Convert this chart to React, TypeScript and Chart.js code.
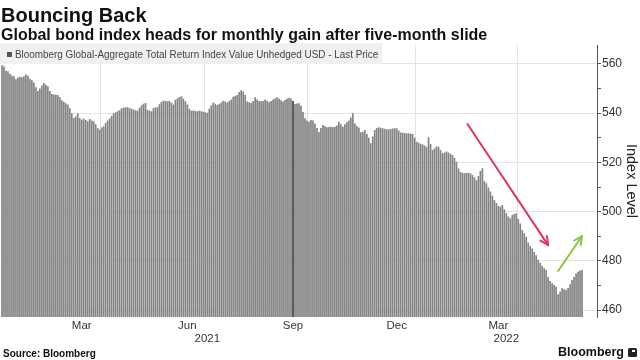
import React, { useEffect, useRef } from "react";
import { Chart, registerables } from "chart.js";

Chart.register(...registerables);

const chartTitle = "Bouncing Back";
const chartSubtitle = "Global bond index heads for monthly gain after five-month slide";
const seriesName = "Bloomberg Global-Aggregate Total Return Index Value Unhedged USD - Last Price";
const sourceNote = "Source: Bloomberg";
const brandName = "Bloomberg";
const axisTitle = "Index Level";

// Index level, roughly every other trading day, Jan 2021 – late May 2022
const indexValues: number[] = [
  559.5, 559, 557.2, 557, 556, 555.2, 555, 553.8, 554.5, 554.8,
  554.6, 555, 555.7, 555.2, 554, 553.4, 552.5, 550.5, 549, 550,
  551.2, 552.3, 551.6, 550.9, 549, 547.8, 547.6, 547.5, 547.4, 546.5,
  545.3, 544.6, 544, 543.5, 542, 540, 538, 538.7, 540, 538,
  537.3, 537.8, 537.2, 536.7, 537.6, 537, 536.7, 535.5, 534, 533.3,
  534.2, 534.7, 536, 537, 537.8, 538.9, 540, 540.4, 540.8, 541.2,
  542, 542.2, 542.4, 542.4, 542.1, 541.8, 541.5, 541.2, 541, 542.2,
  543.2, 543.8, 544.1, 541.4, 541, 540.8, 542.1, 542.3, 542.4, 543.6,
  544.5, 545.1, 544.9, 544.8, 545, 544.2, 543.5, 545.5, 546, 546.6,
  546.9, 545.9, 544.8, 543.5, 541.8, 541, 541.1, 540.9, 540.8, 541,
  540.8, 540.6, 540.4, 540.2, 541.8, 543.2, 544.3, 543.8, 543.3, 543.7,
  544.3, 545.1, 544.7, 544.3, 545, 545.6, 546.7, 547, 547.4, 548.6,
  549.3, 548.8, 547.4, 544.7, 544.4, 544.1, 545, 546.5, 545.6, 545,
  544.8, 545, 545.6, 545, 544.4, 545, 545.6, 546, 546.5, 545.9,
  545.3, 544.7, 545.4, 546, 546.3, 546, 545, 543.7, 543.9, 544,
  543, 540.5, 537.9, 537, 536.5, 537.2, 537, 535.8, 534, 532.4,
  534, 535.2, 534.7, 534.3, 534.4, 534.5, 534.3, 534.5, 535, 536.5,
  535.5, 534.5, 535.5, 536.3, 537, 538.2, 540, 535.8, 534.8, 534.2,
  532.3, 532.5, 533.2, 531.6, 530, 527.8, 530.5, 533.2, 534, 534.3,
  534.1, 533.9, 533.7, 533.5, 533.4, 533.6, 533.8, 533.9, 533.9, 533,
  532.2, 532.1, 532, 531.8, 531.8, 531.6, 531.5, 530, 528.4, 528,
  527.6, 527.3, 526.9, 526.4, 530.2, 527.5, 525, 525.8, 526.5, 526.4,
  525, 523.7, 524, 524.4, 524, 523.5, 523, 521.8, 520.3, 517.5,
  516.1, 515.8, 515.6, 515.7, 515.8, 515.5, 514.9, 514, 512.8, 514.5,
  516.5, 517.6, 512.5, 511.5, 509.8, 508.2, 506.5, 504.7, 503.5, 502.3,
  502, 502.7, 501, 499.3, 498, 497.3, 498.6, 499, 499.3, 497,
  495.2, 492.5, 491.2, 489.8, 487.5, 486, 485, 483.6, 482.3, 480.5,
  479.2, 477.9, 477, 476.3, 473.5, 471.8, 470.9, 470.2, 469.5, 466.4,
  467.6, 468.9, 468.5, 468.2, 469, 470.5, 472.2, 473.5, 474.9, 475.6,
  476.1, 476.3,
];
const trailingEmptySlots = 7;

const monthLabels = ["Mar", "Jun", "Sep", "Dec", "Mar"];
const monthLabelSlots = [40, 93, 146, 198, 249];
const yearLabels = ["2021", "2022"];
const yearLabelSlots = [103, 253];
const quarterStartSlots = [50, 102, 154, 208, 259];
const yTickLabels = [460, 480, 500, 520, 540, 560];
const yMin = 457.2;
const yMax = 567.7;
const yMinorStep = 10;
const highlightedSlot = 146;
const fallArrow = { from: [233.5, 535.6], to: [274, 486.4] };
const riseArrow = { from: [279, 475.9], to: [291, 490.1] };

const FONT = "'Liberation Sans', Arial, sans-serif";

const decorPlugin = {
  id: "decor",
  afterDatasetsDraw(chart: any) {
    const { ctx } = chart;
    const xs = chart.scales.x;
    const ys = chart.scales.y;
    ctx.save();
    // legend box
    ctx.fillStyle = "#f0f0f0";
    ctx.fillRect(0, 43, 382, 21);
    ctx.fillStyle = "#555";
    ctx.fillRect(7, 52, 5, 5);
    ctx.fillStyle = "#444";
    ctx.font = `11.5px ${FONT}`;
    ctx.textBaseline = "middle";
    ctx.textAlign = "left";
    ctx.save();
    ctx.translate(15, 54.5);
    ctx.scale(0.86, 1); // condensed face
    ctx.fillText(seriesName, 0, 0);
    ctx.restore();

    const drawArrow = (a: { from: number[]; to: number[] }, color: string) => {
      const x1 = xs.getPixelForValue(a.from[0]);
      const y1 = ys.getPixelForValue(a.from[1]);
      const x2 = xs.getPixelForValue(a.to[0]);
      const y2 = ys.getPixelForValue(a.to[1]);
      ctx.strokeStyle = color;
      ctx.lineWidth = 2;
      ctx.lineCap = "round";
      ctx.lineJoin = "round";
      ctx.beginPath();
      ctx.moveTo(x1, y1);
      ctx.lineTo(x2, y2);
      ctx.stroke();
      const ang = Math.atan2(y2 - y1, x2 - x1);
      const hl = 9;
      ctx.beginPath();
      ctx.moveTo(x2 - hl * Math.cos(ang - 0.45), y2 - hl * Math.sin(ang - 0.45));
      ctx.lineTo(x2, y2);
      ctx.lineTo(x2 - hl * Math.cos(ang + 0.45), y2 - hl * Math.sin(ang + 0.45));
      ctx.stroke();
    };
    drawArrow(fallArrow, "#e0345e");
    drawArrow(riseArrow, "#8cc63f");
    ctx.restore();
  },
  afterDraw(chart: any) {
    const { ctx } = chart;
    ctx.save();
    ctx.fillStyle = "#111";
    ctx.textAlign = "left";
    ctx.textBaseline = "alphabetic";
    ctx.font = `bold 20px ${FONT}`;
    ctx.fillText(chartTitle, 1, 22);
    ctx.font = `bold 16px ${FONT}`;
    ctx.fillText(chartSubtitle, 1, 40);
    ctx.font = `bold 10px ${FONT}`;
    ctx.fillText(sourceNote, 3, 357);
    ctx.font = `bold 12.5px ${FONT}`;
    ctx.textAlign = "right";
    ctx.fillText(brandName, 624, 356);
    ctx.fillStyle = "#222";
    ctx.beginPath();
    ctx.roundRect(628, 348, 9, 9, 1.5);
    ctx.fill();
    ctx.fillStyle = "#fff";
    ctx.fillRect(632, 350, 3, 2);
    ctx.restore();
  },
};

export default function App() {
  const canvasRef = useRef<HTMLCanvasElement | null>(null);

  useEffect(() => {
    document.body.style.margin = "0";
    const canvas = canvasRef.current;
    if (!canvas) return;
    const labels = Array.from({ length: indexValues.length + trailingEmptySlots }, (_, i) => String(i));
    const data = [...indexValues, ...Array(trailingEmptySlots).fill(null)];

    const chart = new Chart(canvas, {
      type: "bar",
      data: {
        labels,
        datasets: [
          {
            label: seriesName,
            data,
            backgroundColor: (c: any) => (c.dataIndex === highlightedSlot ? "#3f3f3f" : "#858585"),
            barPercentage: 0.86,
            categoryPercentage: 1,
            borderWidth: 0,
          },
        ],
      },
      options: {
        responsive: false,
        animation: false,
        events: [],
        layout: { padding: { top: 45, left: 0, right: 0, bottom: 0 } },
        plugins: { legend: { display: false }, tooltip: { enabled: false }, title: { display: false } },
        scales: {
          x: {
            type: "category",
            offset: true,
            grid: {
              offset: true,
              drawTicks: false,
              color: (c: any) => (quarterStartSlots.includes(c.index) ? "#e4e4e4" : "rgba(0,0,0,0)"),
            },
            border: { display: false },
            ticks: {
              autoSkip: false,
              maxRotation: 0,
              minRotation: 0,
              padding: 2,
              color: "#333",
              font: { family: FONT, size: 11.5, lineHeight: 1.15 },
              callback: (_v: any, i: number) => {
                const m = monthLabelSlots.indexOf(i);
                if (m >= 0) return monthLabels[m];
                const y = yearLabelSlots.indexOf(i);
                if (y >= 0) return ["", yearLabels[y]];
                return "";
              },
            },
            afterFit: (s: any) => {
              s.height = 43;
            },
          },
          y: {
            position: "right",
            min: yMin,
            max: yMax,
            grid: {
              color: (c: any) => (c.tick && yTickLabels.includes(c.tick.value) ? "#e4e4e4" : "rgba(0,0,0,0)"),
              tickColor: "#555",
              tickLength: 4,
            },
            border: { display: true, color: "#555", width: 1 },
            ticks: {
              stepSize: yMinorStep,
              includeBounds: false,
              padding: 1,
              color: "#333",
              font: { family: FONT, size: 12 },
              callback: (v: any) => (yTickLabels.includes(Number(v)) ? String(v) : ""),
            },
            title: {
              display: true,
              text: axisTitle,
              color: "#222",
              font: { family: FONT, size: 14.5 },
              padding: 0,
            },
            afterFit: (s: any) => {
              s.width = 43;
            },
          },
        },
      },
      plugins: [decorPlugin],
    } as any);

    return () => chart.destroy();
  }, []);

  return (
    <div style={{ width: 640, height: 360 }}>
      <canvas ref={canvasRef} width={640} height={360} style={{ display: "block" }} />
    </div>
  );
}
